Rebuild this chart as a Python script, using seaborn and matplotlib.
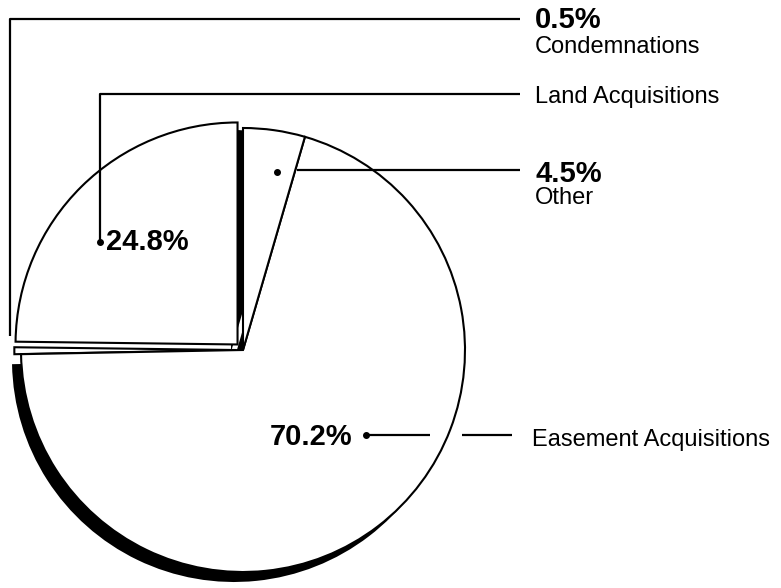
import matplotlib
matplotlib.use("Agg")
import matplotlib.pyplot as plt
import seaborn as sns

# ---- data ----
categories = ["Land Acquisitions", "Condemnations", "Easement Acquisitions", "Other"]
shares = [24.8, 0.5, 70.2, 4.5]
pct_labels = ["24.8%", "0.5%", "70.2%", "4.5%"]

sns.set_theme(style="white")
plt.rcParams['font.family'] = ['Liberation Sans', 'DejaVu Sans']

W, H = 781, 588
fig = plt.figure(figsize=(W / 100, H / 100), dpi=100)
ax = fig.add_axes([0, 0, 1, 1])


def Y(y):
    return H - y


cx, cy, r = 243, Y(350), 222
explode_frac = [0.035, 0.03, 0.0, 0.0]
explode = [f * r for f in explode_frac]   # pie explode is in data units

# depth / shadow pieces (scan look of the original 3-D pie)
ax.pie(shares, startangle=90, counterclock=True, radius=r, center=(cx - 9, cy - 10),
       colors=['none', 'none', 'black', 'none'], wedgeprops=dict(edgecolor='none'))
ax.pie(shares, startangle=90, counterclock=True, radius=r, center=(cx - 12, cy - 2),
       colors=['none', 'none', 'none', 'black'], wedgeprops=dict(edgecolor='none'))

# main pie
ax.pie(shares, startangle=90, counterclock=True, radius=r, center=(cx, cy),
       explode=explode,
       colors=['white'] * len(shares),
       wedgeprops=dict(edgecolor='black', linewidth=1.5))

ax.set_xlim(0, W)
ax.set_ylim(0, H)
ax.set_aspect('auto')
ax.axis('off')

lk = dict(color='black', linewidth=1.6, solid_capstyle='butt')
bold = dict(fontsize=21, fontweight='bold', color='black')
reg = dict(fontsize=17, color='black')

# Condemnations
ax.plot([10, 10, 520], [Y(336), Y(19), Y(19)], **lk)
ax.text(535, Y(28), pct_labels[1], ha='left', va='baseline', **bold)
ax.text(535, Y(53), categories[1], ha='left', va='baseline', **reg)

# Land Acquisitions
ax.plot([100, 100, 520], [Y(242), Y(94), Y(94)], **lk)
ax.plot([100], [Y(242)], 'o', color='black', markersize=4)
ax.text(535, Y(103), categories[0], ha='left', va='baseline', **reg)
ax.text(106, Y(250), pct_labels[0], ha='left', va='baseline', **bold)

# Other
ax.plot([297, 520], [Y(170), Y(170)], **lk)
ax.plot([277], [Y(172)], 'o', color='black', markersize=4)
ax.text(535, Y(182), pct_labels[3], ha='left', va='baseline', **bold)
ax.text(535, Y(204), categories[3], ha='left', va='baseline', **reg)

# Easement Acquisitions
ax.plot([366, 430], [Y(435), Y(435)], **lk)
ax.plot([462, 512], [Y(435), Y(435)], **lk)
ax.plot([366], [Y(435)], 'o', color='black', markersize=4)
ax.text(352, Y(445), pct_labels[2], ha='right', va='baseline', **bold)
ax.text(532, Y(446), categories[2], ha='left', va='baseline', **reg)

fig.savefig("out.png", dpi=100, facecolor='white')
